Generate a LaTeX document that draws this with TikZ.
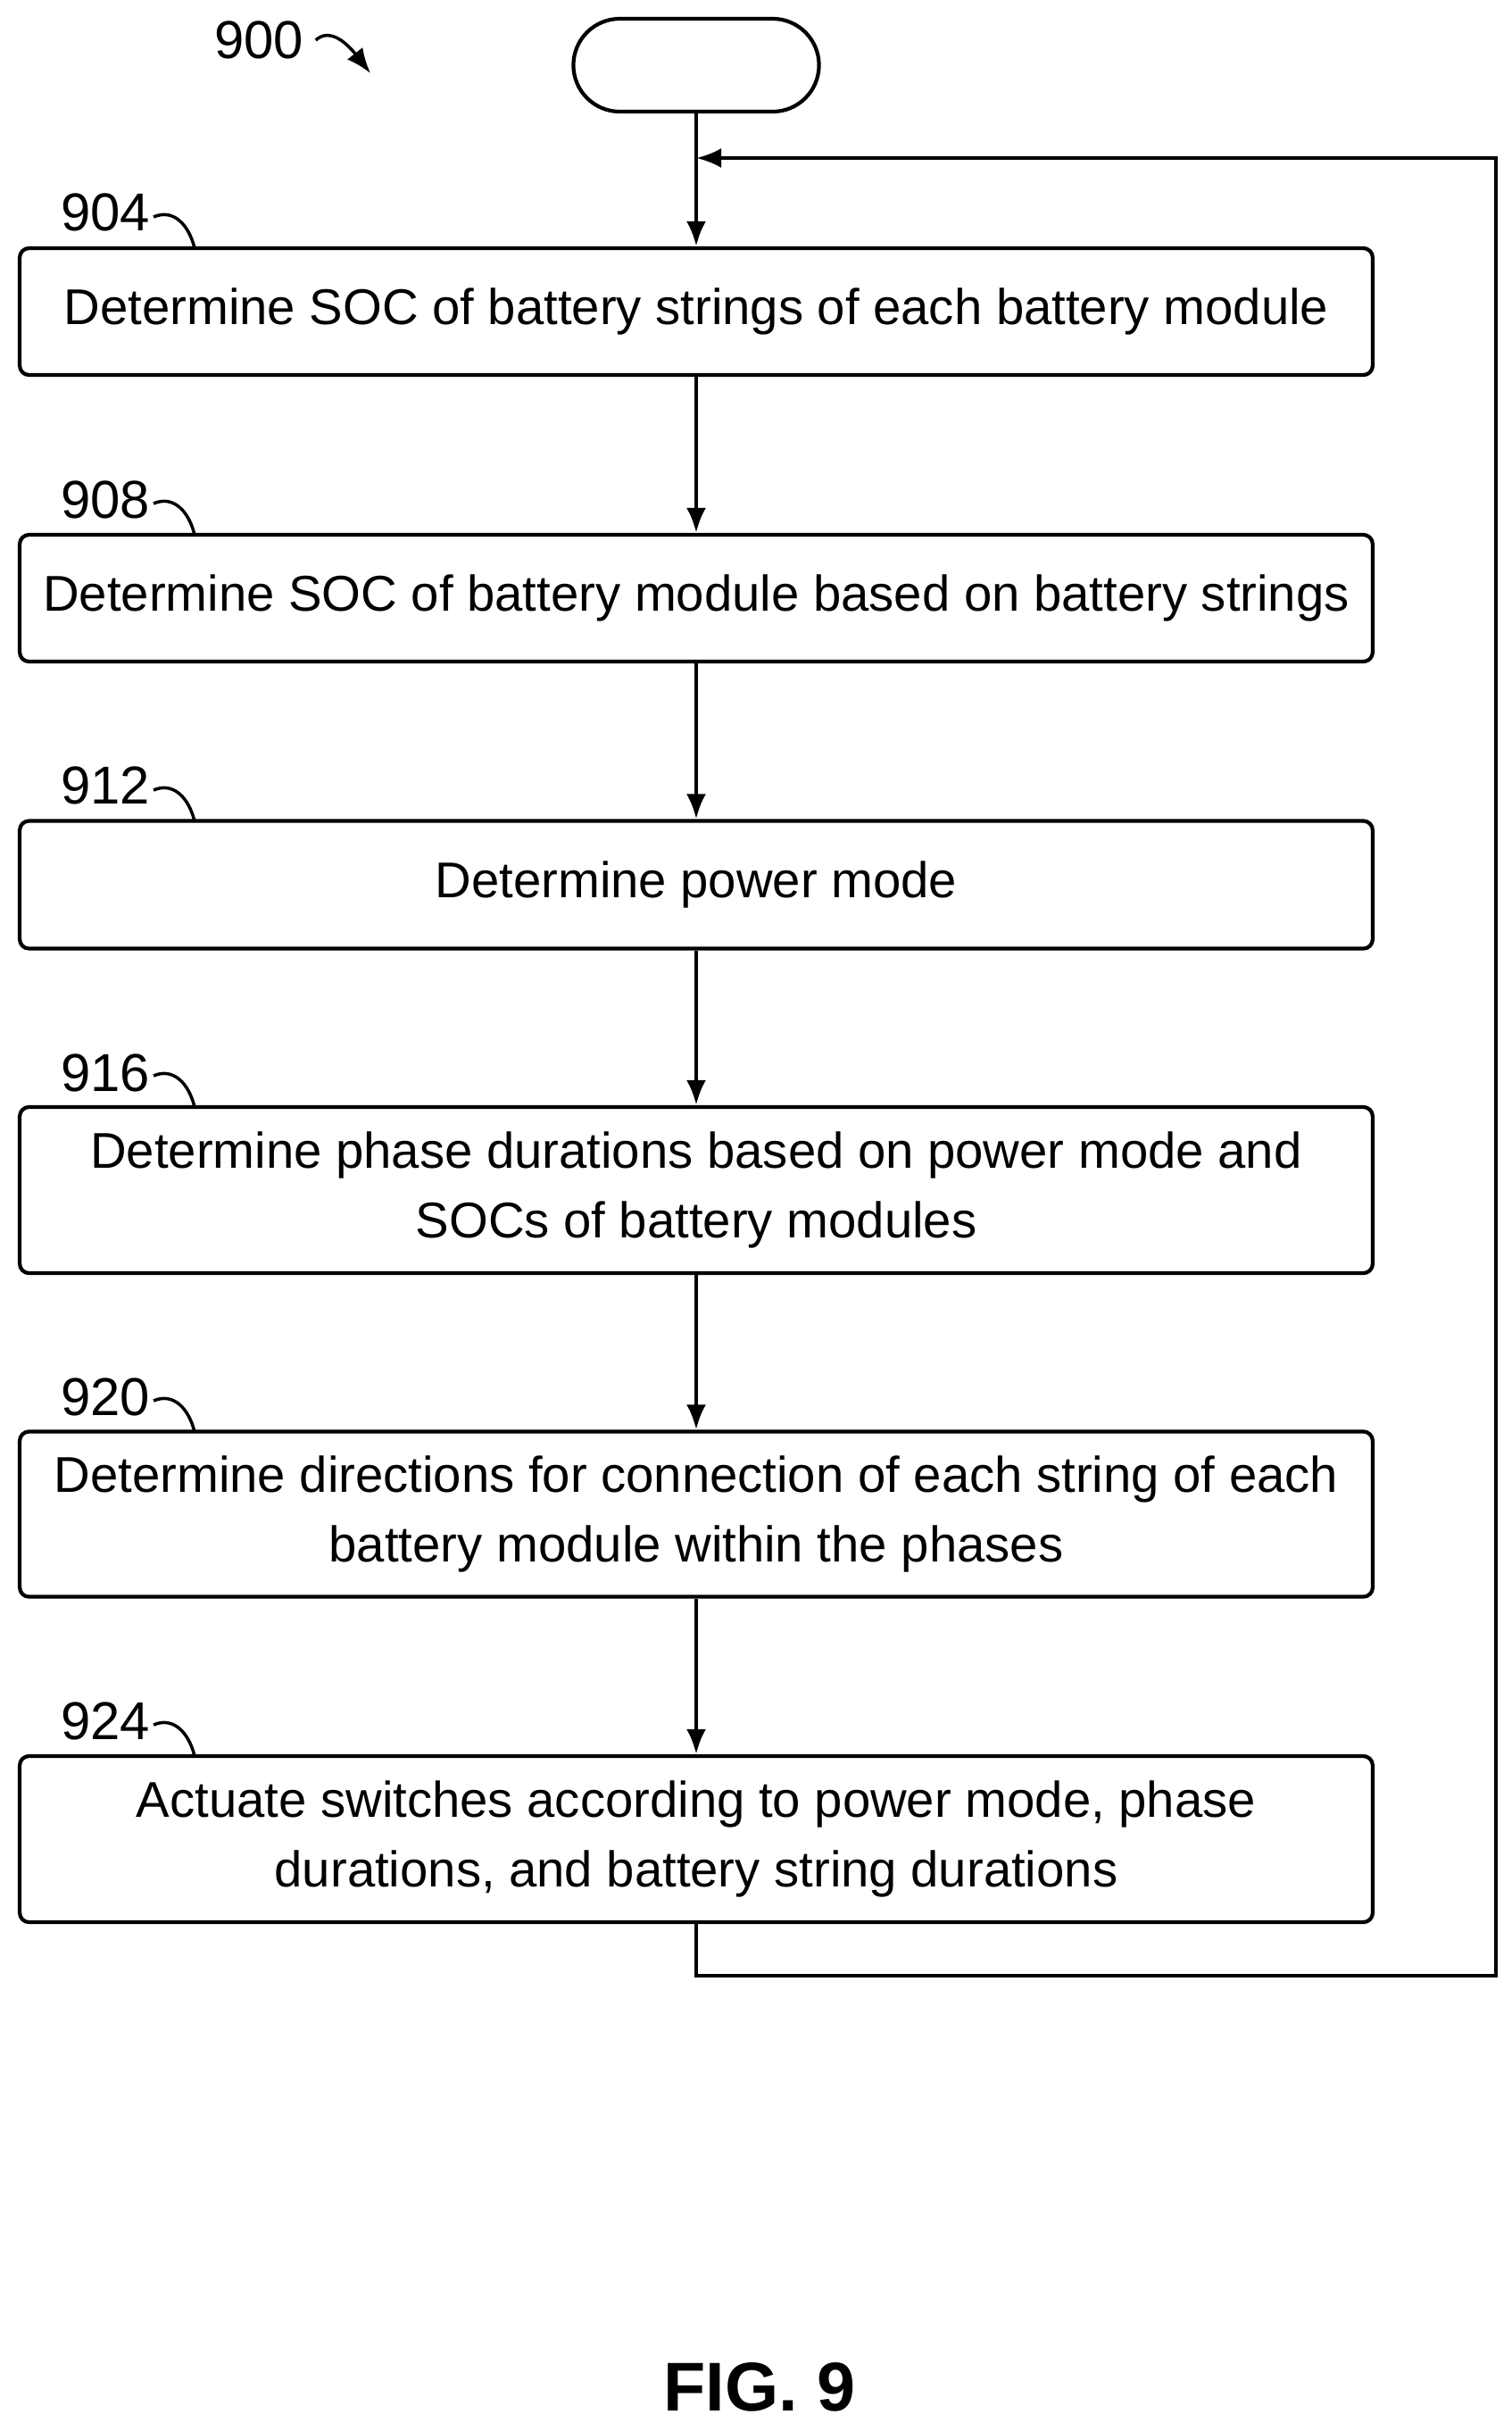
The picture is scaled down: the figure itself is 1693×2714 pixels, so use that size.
\documentclass[tikz,border=0pt]{standalone}
\usepackage{fontspec}
\setmainfont{Liberation Sans}
\usetikzlibrary{arrows.meta,positioning}
\tikzset{%
  >={Latex[width=2.2mm,length=2.8mm]},
  % Specifications for style of nodes:
     base/.style = {draw=black, line width=1.2pt, font=\fontsize{16}{22}\selectfont,
                    align=center, inner sep=0pt},
  process/.style = {base, rectangle, rounded corners=3pt, minimum width=15.15cm},
     term/.style = {base, rounded corners=0.52cm, minimum width=2.75cm, minimum height=1.04cm},
      ref/.style = {font=\fontsize{17}{20}\selectfont},
}
\begin{document}
\begin{tikzpicture}[x=0.01cm, y=-0.01cm, line width=1.2pt]
  \useasboundingbox (0,0) rectangle (1693,2714);
  % Specification of nodes (position, etc.)
  \node (start) [term] at (780,73) {};
  \node (socStrings) [process, minimum height=1.42cm] at (780,349)
        {Determine SOC of battery strings of each battery module};
  \node (socModule)  [process, minimum height=1.42cm] at (780,670)
        {Determine SOC of battery module based on battery strings};
  \node (powerMode)  [process, minimum height=1.43cm] at (780,991)
        {Determine power mode};
  \node (phaseDur)   [process, minimum height=1.86cm] at (780,1333)
        {Determine phase durations based on power mode and\\SOCs of battery modules};
  \node (directions) [process, minimum height=1.85cm] at (780,1696)
        {Determine directions for connection of each string of each\\battery module within the phases};
  \node (actuate)    [process, minimum height=1.86cm] at (780,2060)
        {Actuate switches according to power mode, phase\\durations, and battery string durations};
  \node (fig) [font=\bfseries\fontsize{22}{24}\selectfont] at (851,2674) {FIG. 9};
  % reference numerals
  \node (r900) [ref] at (290,45) {900};
  \draw[->, line width=1pt] (r900.east) .. controls (370,30) and (390,50) .. (415,82);
  \foreach \name/\y in {socStrings/278, socModule/599, powerMode/920,
                        phaseDur/1240, directions/1604, actuate/1967} {
    \node (r\name) [ref, anchor=east] at (165,\y-40) {};
  }
  \node [ref] at (118,238) {904};
  \node [ref] at (118,560) {908};
  \node [ref] at (118,880) {912};
  \node [ref] at (118,1202) {916};
  \node [ref] at (118,1565) {920};
  \node [ref] at (118,1928) {924};
  \foreach \y in {278, 599, 920, 1240, 1604, 1967}
    \draw[line width=1pt] (172,\y-35) .. controls (195,\y-45) and (212,\y-25) .. (218,\y);
  % connectors
  \coordinate (loopIn) at (780,177);
  \draw[->] (start) -- (socStrings);
  \draw[->] (socStrings) -- (socModule);
  \draw[->] (socModule) -- (powerMode);
  \draw[->] (powerMode) -- (phaseDur);
  \draw[->] (phaseDur) -- (directions);
  \draw[->] (directions) -- (actuate);
  \draw[->] (actuate) -- ++(0,153) -| (1676,177) -- (loopIn);
\end{tikzpicture}
\end{document}
